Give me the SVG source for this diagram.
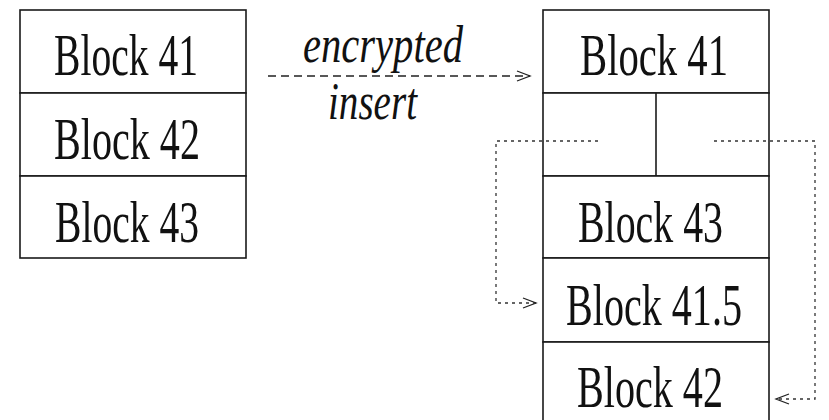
<svg xmlns="http://www.w3.org/2000/svg" width="829" height="420" viewBox="0 0 829 420">
<style>
.box{fill:#fff;stroke:#1a1a1a;stroke-width:1.6}
.ln{stroke:#1a1a1a;stroke-width:1.6;fill:none}
.dash{stroke:#222;stroke-width:1.3;fill:none;stroke-dasharray:8 5}
.dot{stroke:#333;stroke-width:1.3;fill:none;stroke-dasharray:3 4}
</style>
<defs>
<marker id="ah" markerWidth="16" markerHeight="12" refX="14" refY="6" orient="auto" markerUnits="userSpaceOnUse">
<path d="M1,1 L14,6 L1,11" fill="none" stroke="#222" stroke-width="1.3"/>
</marker>
</defs>
<rect width="829" height="420" fill="#fff"/>
<g font-family="Liberation Serif, serif" font-size="60" fill="#111">
<g id="left-block-41">
<rect class="box" x="20" y="10" width="226" height="83"/>
<text x="54" y="75" textLength="144" lengthAdjust="spacingAndGlyphs">Block 41</text>
</g>
<g id="left-block-42">
<rect class="box" x="20" y="93" width="226" height="83"/>
<text x="54" y="159" textLength="146" lengthAdjust="spacingAndGlyphs">Block 42</text>
</g>
<g id="left-block-43">
<rect class="box" x="20" y="176" width="226" height="82"/>
<text x="55" y="242" textLength="144" lengthAdjust="spacingAndGlyphs">Block 43</text>
</g>
<g id="right-block-41">
<rect class="box" x="543" y="10" width="226" height="83"/>
<text x="580" y="75" textLength="148" lengthAdjust="spacingAndGlyphs">Block 41</text>
</g>
<g id="right-gap">
<rect class="box" x="543" y="93" width="226" height="83"/>
<line class="ln" x1="656" y1="93" x2="656" y2="176"/>
</g>
<g id="right-block-43">
<rect class="box" x="543" y="176" width="226" height="82"/>
<text x="578" y="242" textLength="145" lengthAdjust="spacingAndGlyphs">Block 43</text>
</g>
<g id="right-block-41-5">
<rect class="box" x="543" y="258" width="226" height="84"/>
<text x="566" y="325" textLength="176" lengthAdjust="spacingAndGlyphs">Block 41.5</text>
</g>
<g id="right-block-42">
<rect class="box" x="543" y="342" width="226" height="90"/>
<text x="577" y="407" textLength="146" lengthAdjust="spacingAndGlyphs">Block 42</text>
</g>
</g>
<g id="connectors">
<path class="dash" d="M268,76 L530,76" marker-end="url(#ah)"/>
<text font-family="Liberation Serif, serif" font-style="italic" font-size="52" fill="#111" x="303" y="62" textLength="160" lengthAdjust="spacingAndGlyphs">encrypted</text>
<text font-family="Liberation Serif, serif" font-style="italic" font-size="52" fill="#111" x="328" y="119" textLength="89" lengthAdjust="spacingAndGlyphs">insert</text>
<path class="dot" d="M598,141 L496,141 L496,303 L536,303" marker-end="url(#ah)"/>
<path class="dot" d="M714,141 L815,141 L815,399 L776,399" marker-end="url(#ah)"/>
</g>
</svg>
